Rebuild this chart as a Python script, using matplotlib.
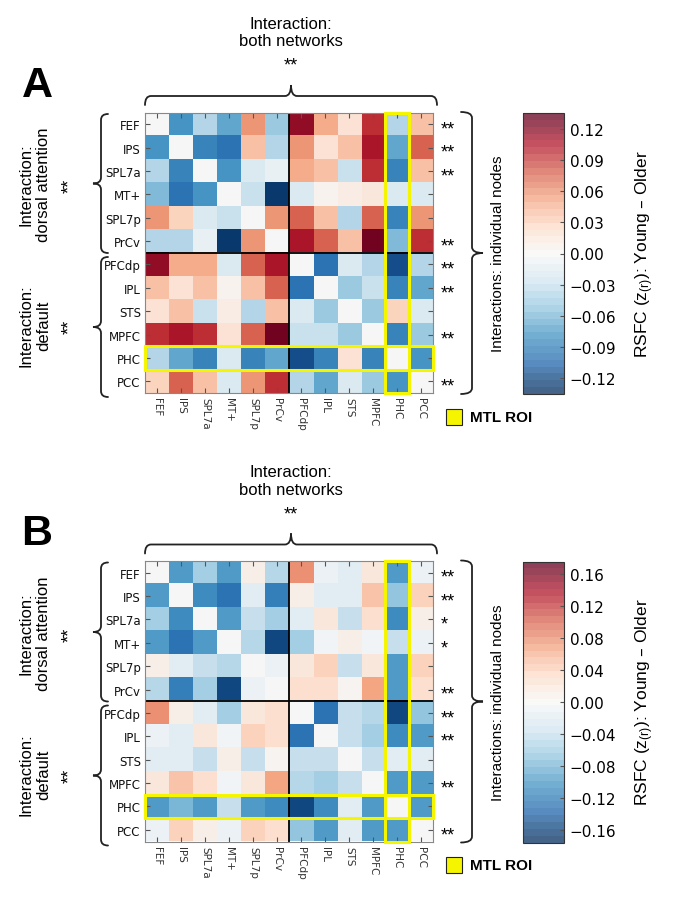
"""Young vs. older RSFC difference matrices (panels A and B)."""

import matplotlib

matplotlib.use("Agg")
import matplotlib.pyplot as plt  # noqa: E402
import numpy as np  # noqa: E402
from matplotlib.colors import ListedColormap, Normalize  # noqa: E402
from matplotlib.patches import PathPatch, Rectangle  # noqa: E402
from matplotlib.path import Path  # noqa: E402
from matplotlib.transforms import blended_transform_factory  # noqa: E402
import matplotlib.colorbar as mcolorbar  # noqa: E402

rois = ["FEF", "IPS", "SPL7a", "MT+", "SPL7p", "PrCv",
        "PFCdp", "IPL", "STS", "MPFC", "PHC", "PCC"]

panel_a = [
    [0.00, -0.08, -0.04, -0.07, 0.06, -0.05, 0.12, 0.05, 0.02, 0.10, -0.04, 0.04],
    [-0.08, 0.00, -0.09, -0.10, 0.04, -0.04, 0.06, 0.02, 0.04, 0.11, -0.07, 0.08],
    [-0.04, -0.09, 0.00, -0.08, -0.02, -0.01, 0.05, 0.04, -0.03, 0.10, -0.09, 0.04],
    [-0.06, -0.10, -0.08, 0.00, -0.03, -0.13, -0.02, 0.005, 0.01, 0.015, -0.02, -0.02],
    [0.06, 0.03, -0.02, -0.03, 0.00, 0.06, 0.08, 0.04, -0.04, 0.08, -0.09, 0.06],
    [-0.04, -0.04, -0.01, -0.13, 0.06, 0.00, 0.11, 0.08, 0.04, 0.13, -0.06, 0.10],
    [0.12, 0.05, 0.05, -0.02, 0.08, 0.11, 0.00, -0.10, -0.02, -0.04, -0.12, -0.04],
    [0.04, 0.02, 0.04, 0.005, 0.04, 0.08, -0.10, 0.00, -0.05, -0.03, -0.09, -0.07],
    [0.02, 0.04, -0.03, 0.01, -0.04, 0.04, -0.02, -0.05, 0.00, -0.05, 0.03, -0.02],
    [0.10, 0.11, 0.10, 0.02, 0.08, 0.13, -0.03, -0.03, -0.05, 0.00, -0.09, -0.05],
    [-0.04, -0.07, -0.09, -0.02, -0.09, -0.07, -0.12, -0.09, 0.02, -0.09, 0.00, -0.08],
    [0.03, 0.08, 0.04, -0.02, 0.06, 0.10, -0.04, -0.07, -0.02, -0.05, -0.08, 0.00],
]

panel_b = [
    [0.00, -0.10, -0.06, -0.10, 0.01, -0.05, 0.08, -0.01, -0.02, 0.02, -0.10, -0.01],
    [-0.10, 0.00, -0.11, -0.13, -0.02, -0.12, 0.01, -0.02, -0.02, 0.05, -0.07, 0.04],
    [-0.06, -0.11, 0.00, -0.10, -0.04, -0.06, -0.02, 0.02, -0.04, 0.03, -0.11, 0.01],
    [-0.10, -0.13, -0.10, 0.00, -0.05, -0.16, -0.06, -0.005, 0.01, -0.005, -0.04, -0.01],
    [0.01, -0.02, -0.04, -0.05, 0.00, -0.01, 0.02, 0.04, -0.04, 0.02, -0.10, 0.04],
    [-0.05, -0.12, -0.06, -0.16, -0.01, 0.00, 0.03, 0.03, 0.005, 0.07, -0.10, 0.03],
    [0.08, 0.01, -0.02, -0.06, 0.02, 0.03, 0.00, -0.13, -0.04, -0.05, -0.16, -0.07],
    [-0.01, -0.02, 0.02, -0.005, 0.04, 0.03, -0.13, 0.00, -0.04, -0.06, -0.11, -0.10],
    [-0.02, -0.02, -0.04, 0.01, -0.04, 0.005, -0.04, -0.04, 0.00, -0.04, -0.02, -0.02],
    [0.02, 0.05, 0.03, -0.005, 0.02, 0.07, -0.05, -0.06, -0.04, 0.00, -0.10, -0.10],
    [-0.10, -0.08, -0.10, -0.04, -0.10, -0.11, -0.16, -0.11, -0.02, -0.10, 0.00, -0.10],
    [-0.01, 0.04, 0.01, -0.01, 0.04, 0.03, -0.07, -0.10, -0.02, -0.10, -0.10, 0.00],
]

stars_a = ["**", "**", "**", "", "", "**", "**", "**", "", "**", "", "**"]
stars_b = ["**", "**", "*", "*", "", "**", "**", "**", "", "**", "", "**"]

vmax_a = 0.135
vmax_b = 0.176
cbar_ticks_a = [0.12, 0.09, 0.06, 0.03, 0.00, -0.03, -0.06, -0.09, -0.12]
cbar_ticks_b = [0.16, 0.12, 0.08, 0.04, 0.00, -0.04, -0.08, -0.12, -0.16]

W, H = 675, 903
ANN_FONT = ["Liberation Sans", "DejaVu Sans"]
YELLOW = "#f5f500"


def fig_rect(left, top, right, bottom):
    return [left / W, 1 - bottom / H, (right - left) / W, (bottom - top) / H]


def brace(ax, a, b, c, end, tip, vertical=False, r=6):
    m = (a + b) / 2
    pts = [(a, c + end), (a, c), (a + r, c), (m - r, c), (m, c), (m, c - tip),
           (m, c), (m + r, c), (b - r, c), (b, c), (b, c + end)]
    codes = [Path.MOVETO, Path.CURVE3, Path.CURVE3, Path.LINETO, Path.CURVE3, Path.CURVE3,
             Path.CURVE3, Path.CURVE3, Path.LINETO, Path.CURVE3, Path.CURVE3]
    if vertical:
        pts = [(q, p) for p, q in pts]
    ax.add_patch(PathPatch(Path(pts, codes), fill=False, lw=1.3, color="#222222",
                           capstyle="round"))


def fmt(v):
    return f"{v:.2f}".replace("-", "\u2212")


fig = plt.figure(figsize=(W / 100, H / 100), dpi=100)
overlay = fig.add_axes([0, 0, 1, 1])
overlay.set_xlim(0, W)
overlay.set_ylim(H, 0)
overlay.axis("off")
overlay.patch.set_visible(False)

base = plt.get_cmap("RdBu_r")
band_cols = base(np.linspace(0, 1, 41))
band_cols[:, :3] = 0.75 * band_cols[:, :3] + 0.25
cbar_cmap = ListedColormap(band_cols)

panels = [("A", panel_a, stars_a, vmax_a, cbar_ticks_a, 0),
          ("B", panel_b, stars_b, vmax_b, cbar_ticks_b, 448.5)]

for letter, mat, stars, vmax, cticks, dy in panels:
    ax = fig.add_axes(fig_rect(145, 113.5 + dy, 433, 394 + dy))
    ax.imshow(np.array(mat), cmap="RdBu_r", vmin=-vmax, vmax=vmax,
              interpolation="nearest", aspect="auto")
    n = len(rois)
    ax.set_xticks(range(n))
    ax.set_yticks(range(n))
    ax.set_xticklabels(rois, rotation=270, fontsize=7.5, color="#333333")
    ax.set_yticklabels(rois, fontsize=8.5, color="#111111")
    ax.tick_params(direction="in", length=3.5, width=0.8, top=True, right=True,
                   color="#555555", pad=3)
    for s in ax.spines.values():
        s.set_color("#888888")
        s.set_linewidth(0.8)
    ax.axhline(5.5, color="black", lw=1.3)
    ax.axvline(5.5, color="black", lw=1.3)
    phc = rois.index("PHC")
    ax.add_patch(Rectangle((phc - 0.5, -0.5), 1, n, fill=False, ec=YELLOW, lw=2.2,
                           clip_on=False, zorder=5))
    ax.add_patch(Rectangle((-0.5, phc - 0.5), n, 1, fill=False, ec=YELLOW, lw=2.2,
                           clip_on=False, zorder=5))
    trans = blended_transform_factory(ax.transAxes, ax.transData)
    for i, s in enumerate(stars):
        if s:
            ax.text(1.025, i + 0.2, s, transform=trans, va="center", ha="left",
                    fontsize=13, family=ANN_FONT)

    cax = fig.add_axes(fig_rect(523, 114 + dy, 564, 395 + dy))
    cb = mcolorbar.ColorbarBase(cax, cmap=cbar_cmap, norm=Normalize(-vmax, vmax),
                                ticks=cticks)
    cb.set_ticklabels([fmt(t) for t in cticks])
    cax.tick_params(direction="in", length=3, labelsize=11, pad=4, color="#555555")
    cb.outline.set_edgecolor("#333333")
    cb.outline.set_linewidth(0.8)

    # annotations in pixel coordinates
    overlay.text(37, 86 + dy, letter, fontsize=31, fontweight="bold", ha="center",
                 va="center", family=ANN_FONT)
    overlay.text(291, 33 + dy, "Interaction:\nboth networks", fontsize=12, ha="center",
                 va="center", family=ANN_FONT, linespacing=1.2)
    overlay.text(291, 66 + dy, "**", fontsize=13, ha="center", va="center",
                 family=ANN_FONT)
    brace(overlay, 145, 437, 97 + dy, 9, 11)
    brace(overlay, 115 + dy, 254 + dy, 101, 7, 8, vertical=True)
    brace(overlay, 258 + dy, 398 + dy, 101, 7, 8, vertical=True)
    brace(overlay, 113 + dy, 395 + dy, 472, -11, -11, vertical=True)
    overlay.text(35, 185 + dy, "Interaction:\ndorsal attention", fontsize=12,
                 rotation=90, ha="center", va="center", family=ANN_FONT,
                 linespacing=1.2)
    overlay.text(35, 326 + dy, "Interaction:\ndefault", fontsize=12, rotation=90,
                 ha="center", va="center", family=ANN_FONT, linespacing=1.2)
    overlay.text(70, 186 + dy, "**", fontsize=13, rotation=90, ha="center",
                 va="center", family=ANN_FONT)
    overlay.text(70, 327 + dy, "**", fontsize=13, rotation=90, ha="center",
                 va="center", family=ANN_FONT)
    overlay.text(498, 254 + dy, "Interactions: individual nodes", fontsize=11,
                 rotation=90, ha="center", va="center", family=ANN_FONT)
    overlay.text(645, 254 + dy, r"RSFC ($\mathregular{z_{(r)}}$): Young – Older",
                 fontsize=12.5, rotation=90, ha="center", va="center", family=ANN_FONT)
    overlay.add_patch(Rectangle((446, 410 + dy), 16, 16, fc=YELLOW, ec="#222222",
                                lw=0.8))
    overlay.text(470, 418 + dy, "MTL ROI", fontsize=11, fontweight="bold",
                 ha="left", va="center", family=ANN_FONT)

fig.savefig("out.png", dpi=100, facecolor="white")
